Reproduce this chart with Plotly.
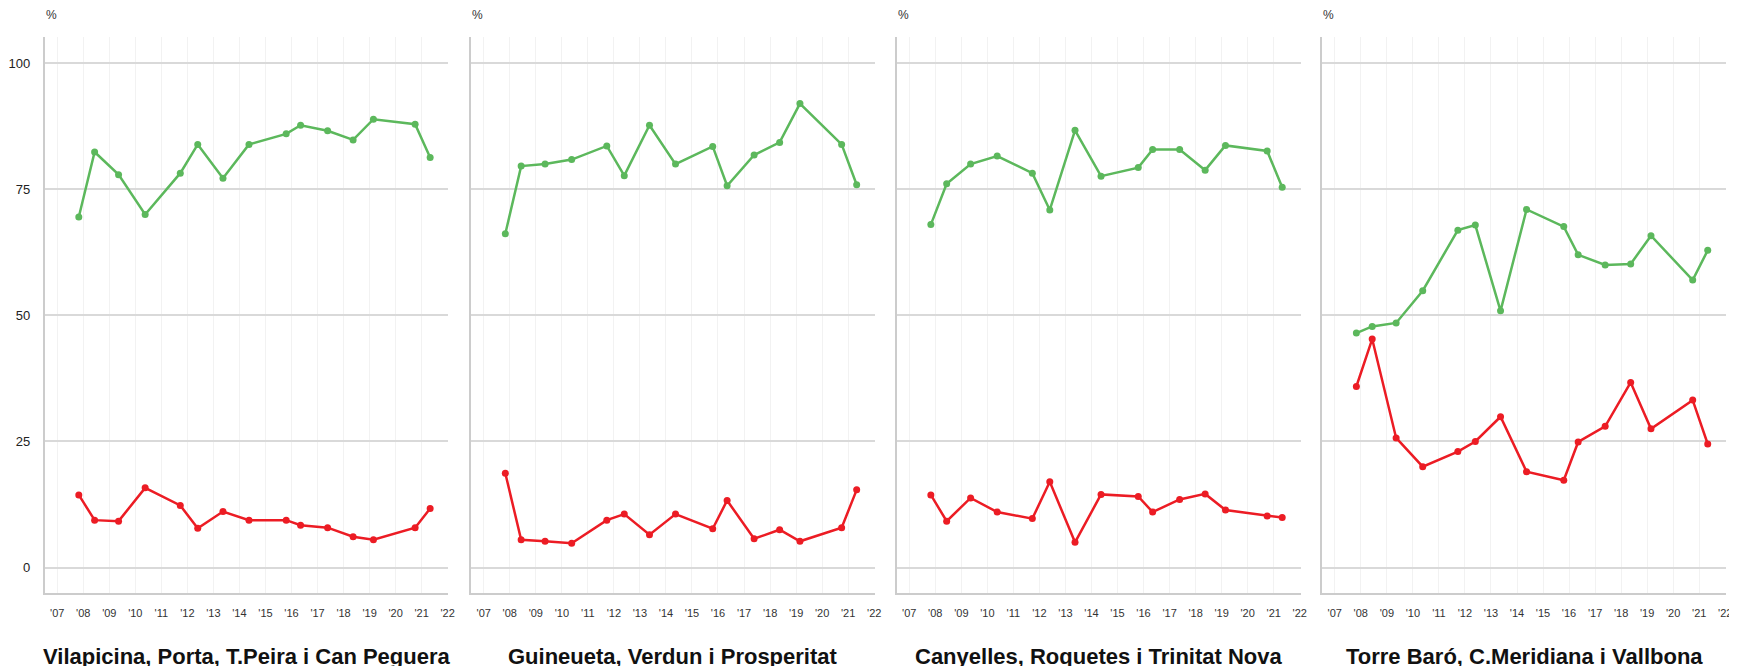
import plotly.graph_objects as go

dates = ["2007-10-31", "2008-06-09", "2009-05-11", "2010-05-19", "2011-09-24",
         "2012-05-26", "2013-05-15", "2014-05-15", "2015-10-19", "2016-05-08",
         "2017-05-22", "2018-05-15", "2019-02-24", "2020-10-01", "2021-04-30"]

titles = ["Vilapicina, Porta, T.Peira i Can Peguera",
          "Guineueta, Verdun i Prosperitat",
          "Canyelles, Roquetes i Trinitat Nova",
          "Torre Baró, C.Meridiana i Vallbona"]

green_1 = [69.5, 82.4, 77.9, 70.0, 78.2, 83.9, 77.2, 83.9, 86.0, 87.7, 86.6, 84.8, 88.9, 87.9, 81.3]
red_1 = [14.4, 9.4, 9.2, 15.8, 12.3, 7.8, 11.1, 9.4, 9.4, 8.4, 7.9, 6.1, 5.5, 7.9, 11.7]

green_2 = [66.2, 79.6, 80.0, 80.9, 83.6, 77.7, 87.7, 80.0, 83.5, 75.7, 81.8, 84.3, 92.0, 83.9, 75.9]
red_2 = [18.7, 5.5, 5.2, 4.8, 9.4, 10.6, 6.5, 10.6, 7.7, 13.3, 5.7, 7.5, 5.2, 7.9, 15.4]

green_3 = [68.0, 76.1, 80.0, 81.6, 78.2, 70.9, 86.7, 77.6, 79.3, 82.9, 82.9, 78.8, 83.7, 82.6, 75.4]
red_3 = [14.4, 9.2, 13.8, 11.0, 9.7, 17.0, 5.0, 14.5, 14.1, 11.0, 13.5, 14.6, 11.4, 10.2, 9.9]

green_4 = [46.5, 47.8, 48.5, 54.9, 66.9, 67.9, 50.9, 71.0, 67.6, 62.0, 60.0, 60.2, 65.8, 57.0, 62.9]
red_4 = [35.9, 45.3, 25.7, 20.0, 23.0, 25.0, 29.9, 19.0, 17.3, 24.9, 28.0, 36.7, 27.5, 33.2, 24.5]

greens = [green_1, green_2, green_3, green_4]
reds = [red_1, red_2, red_3, red_4]

y_ticks = [0, 25, 50, 75, 100]
x_ticks = [f"{y}-01-01" for y in range(2007, 2023)]

GREEN = "#5cb85c"
RED = "#ec1c24"

W, H = 1737, 666
OFF = 8  # page body margin
panel_px = [(45 - OFF, 450 - OFF), (473 - OFF, 878 - OFF),
            (900 - OFF, 1305 - OFF), (1327 - OFF, 1732 - OFF)]
y_top_px, y_bot_px = 37 - OFF, 593 - OFF
FONT = "Liberation Sans, Arial, sans-serif"

fig = go.Figure()
for i in range(4):
    ax = "" if i == 0 else str(i + 1)
    fig.add_trace(go.Scatter(x=dates, y=greens[i], mode="lines+markers",
                             line=dict(color=GREEN, width=2.5),
                             marker=dict(color=GREEN, size=7),
                             xaxis="x" + ax, yaxis="y" + ax, showlegend=False))
    fig.add_trace(go.Scatter(x=dates, y=reds[i], mode="lines+markers",
                             line=dict(color=RED, width=2.5),
                             marker=dict(color=RED, size=7),
                             xaxis="x" + ax, yaxis="y" + ax, showlegend=False))
    l, r = panel_px[i]
    xa = dict(domain=[l / W, r / W], type="date",
              range=["2006-07-12", "2022-01-12"],
              tickvals=x_ticks, tickformat="'%y",
              showgrid=True, gridcolor="#f2f2f2", gridwidth=1,
              showline=True, linecolor="#cccccc", linewidth=2,
              ticks="", ticklabelstandoff=9,
              tickfont=dict(family=FONT, size=11, color="#333333"),
              zeroline=False, anchor="y" + ax, fixedrange=True)
    ya = dict(domain=[1 - y_bot_px / H, 1 - y_top_px / H],
              range=[-5.05, 105.2], tickvals=y_ticks,
              showticklabels=(i == 0),
              tickfont=dict(family=FONT, size=13, color="#222222"),
              ticklabelstandoff=10,
              showgrid=True, gridcolor="#d9d9d9", gridwidth=2,
              showline=True, linecolor="#cccccc", linewidth=2,
              ticks="", zeroline=False, anchor="x" + ax, fixedrange=True)
    fig.layout["xaxis" + ax] = xa
    fig.layout["yaxis" + ax] = ya
    fig.add_annotation(text="%", xref="paper", yref="paper",
                       x=(l - 1) / W, y=1 - (15 - OFF) / H, xanchor="left", yanchor="middle",
                       showarrow=False,
                       font=dict(family=FONT, size=12, color="#333333"))
    fig.add_annotation(text="<b>" + titles[i] + "</b>", xref="paper", yref="paper",
                       x=(l + r) / 2 / W, y=1 - (656 - OFF) / H, xanchor="center", yanchor="middle",
                       showarrow=False,
                       font=dict(family=FONT, size=22, color="#111111"))

fig.update_layout(width=W, height=H, margin=dict(l=0, r=0, t=0, b=0),
                  plot_bgcolor="white", paper_bgcolor="white")

fig.write_html("out.html")
